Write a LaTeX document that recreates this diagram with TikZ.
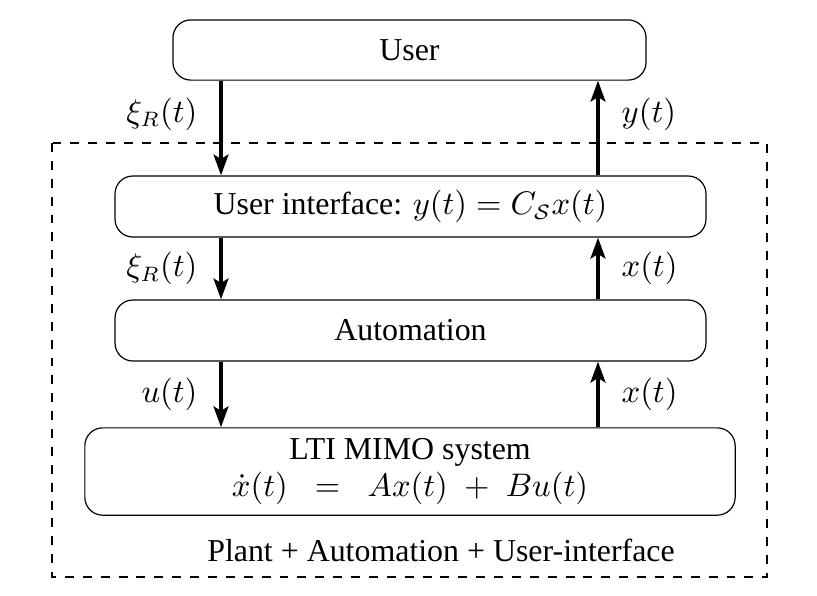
\documentclass[tikz,border=0pt]{standalone}
\usepackage{amsfonts,amssymb,amsmath}
\usepackage{fontspec}
\setmainfont{Liberation Serif}
\usepackage{tikz}
\usetikzlibrary{arrows.meta,positioning}

\begin{document}
\begin{tikzpicture}[x=0.0118cm,y=-0.0118cm,
  every node/.style={font=\fontsize{10.7}{12.5}\selectfont},
  blk/.style={draw,rounded corners=6pt,inner sep=0pt,align=center},
  sig/.style={-{Stealth[length=7pt,width=5pt,inset=1.5pt]},line width=1.2pt}]
\useasboundingbox(0,0)rectangle(817,595);
\draw[dashed](52,143)rectangle(767,577);
\node[blk,minimum width=5.58cm,minimum height=0.71cm](user)at(409.5,50){User};
\node[blk,minimum width=6.97cm,minimum height=0.72cm](ui)at(410.5,206.5){User interface: $y(t)=C_{\mathcal S}x(t)$};
\node[blk,minimum width=6.97cm,minimum height=0.72cm](aut)at(410.5,330.5){Automation};
\node[blk,minimum width=7.67cm,minimum height=1.03cm](lti)at(410,471.5){LTI MIMO system\\$\dot x(t)\;\;=\;\;Ax(t)\;+\;Bu(t)$};
\node(plant)at(441,550){Plant + Automation + User-interface};
\coordinate(l)at(221,0);
\coordinate(r)at(598,0);
\draw[sig](user.south-|l)--node[pos=0.35,left=4pt]{$\xi_R(t)$}(ui.north-|l);
\draw[sig](ui.north-|r)--node[pos=0.65,right=4pt]{$y(t)$}(user.south-|r);
\draw[sig](ui.south-|l)--node[left=4pt]{$\xi_R(t)$}(aut.north-|l);
\draw[sig](aut.north-|r)--node[right=4pt]{$x(t)$}(ui.south-|r);
\draw[sig](aut.south-|l)--node[left=4pt]{$u(t)$}(lti.north-|l);
\draw[sig](lti.north-|r)--node[right=4pt]{$x(t)$}(aut.south-|r);
\end{tikzpicture}
\end{document}
